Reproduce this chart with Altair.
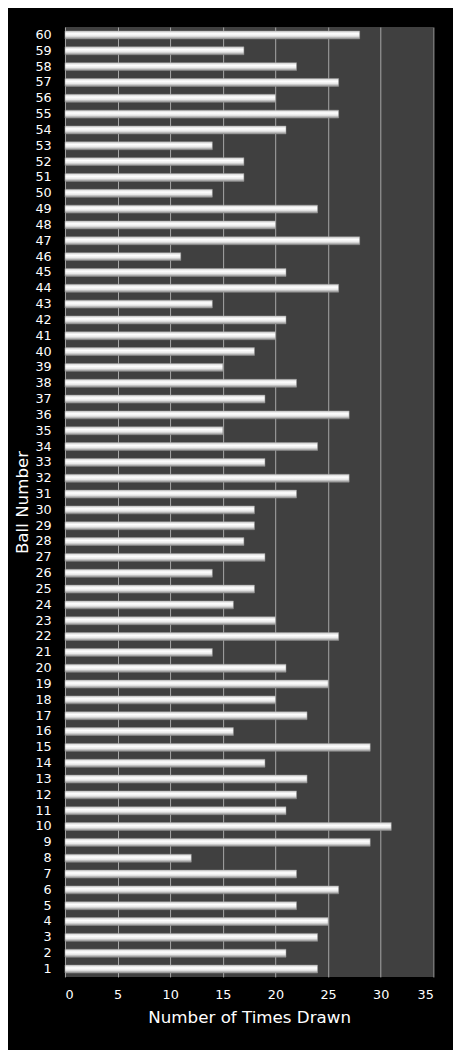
"""
Lottery ball draw counts as a horizontal bar chart on a dark background
"""

import altair as alt
import pandas as pd

balls = list(range(1, 61))
times_drawn = [
    24, 21, 24, 25, 22, 26, 22, 12, 29, 31,
    21, 22, 23, 19, 29, 16, 23, 20, 25, 21,
    14, 26, 20, 16, 18, 14, 19, 17, 18, 18,
    22, 27, 19, 24, 15, 27, 19, 22, 15, 18,
    20, 21, 14, 26, 21, 11, 28, 20, 24, 14,
    17, 17, 14, 21, 26, 20, 26, 22, 17, 28,
]
x_ticks = [0, 5, 10, 15, 20, 25, 30, 35]


def main():
    df = pd.DataFrame({'ball': balls, 'drawn': times_drawn})

    # Silver bevel look for the bars
    silver = alt.Gradient(
        gradient='linear',
        stops=[alt.GradientStop(color='#d0d0d0', offset=0),
               alt.GradientStop(color='#ffffff', offset=0.35),
               alt.GradientStop(color='#e8e8e8', offset=0.65),
               alt.GradientStop(color='#8a8a8a', offset=1)],
        x1=0, x2=0, y1=0, y2=1
    )

    chart = alt.Chart(df).mark_bar(
        color=silver, stroke='#9a9a9a', strokeWidth=0.5
    ).encode(
        alt.X('drawn:Q',
              scale=alt.Scale(domain=[0, 35], nice=False),
              axis=alt.Axis(values=x_ticks, title='Number of Times Drawn',
                            grid=True, gridColor='#a8a8a8', gridWidth=1,
                            ticks=False, domain=False, labelPadding=12,
                            titlePadding=8)),
        alt.Y('ball:O', sort='descending',
              scale=alt.Scale(paddingInner=0.5, paddingOuter=0.25),
              axis=alt.Axis(title='Ball Number', ticks=False, domain=False,
                            labelPadding=14, titlePadding=4))
    ).properties(
        width=375,
        height=967,
        background='black',
        padding={'left': 58, 'top': 10, 'right': 20, 'bottom': 65},
        autosize=alt.AutoSizeParams(type='none')
    ).configure_view(
        fill='#404040', stroke=None
    ).configure_axis(
        labelFont='DejaVu Sans', labelFontSize=13, labelColor='white',
        titleFont='DejaVu Sans', titleFontSize=17, titleColor='white',
        titleFontWeight='normal'
    )

    chart.save('out.html', embed_options={'renderer': 'svg', 'actions': False})


if __name__ == '__main__':
    main()
